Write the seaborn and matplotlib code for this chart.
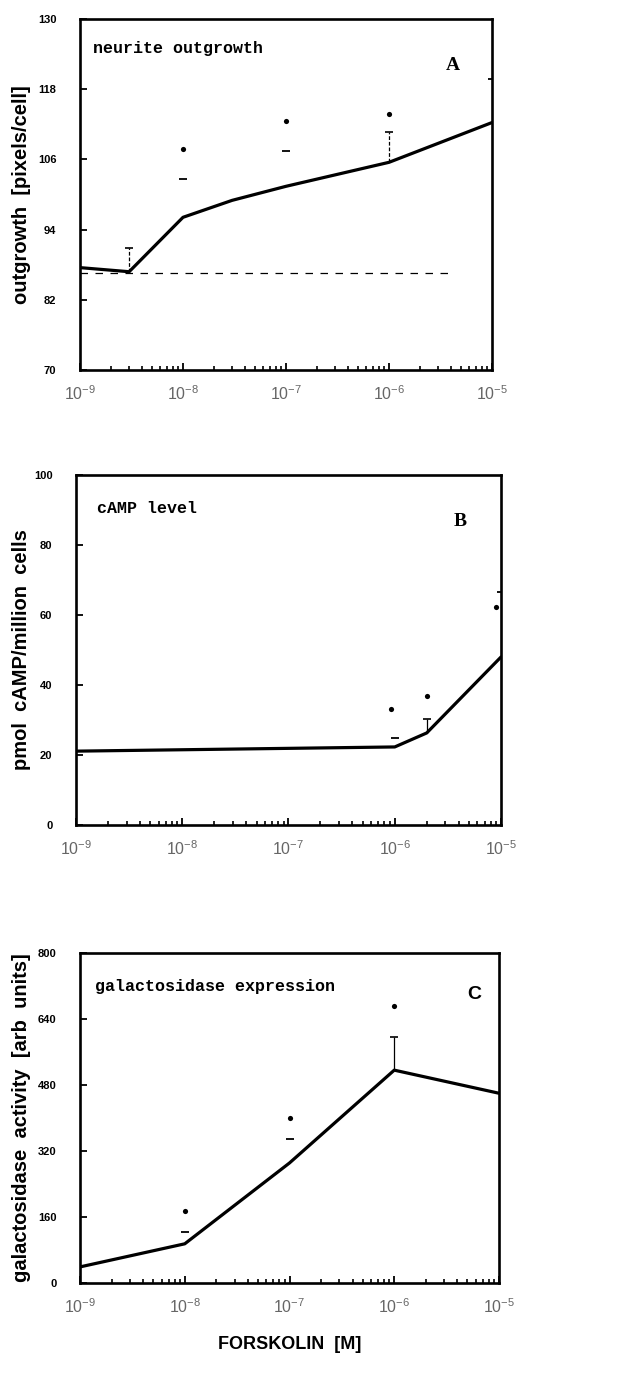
import matplotlib
matplotlib.use("Agg")
import numpy as np
import pandas as pd
import seaborn as sns
import matplotlib.pyplot as plt
from matplotlib.ticker import LogLocator, FixedLocator, NullFormatter, FixedFormatter

# ---------------- data ----------------
# Panel A: neurite outgrowth
a_conc = [1e-9, 3e-9, 1e-8, 3e-8, 1e-7, 1e-6, 1e-5]
a_mean = [87.5, 86.8, 96.1, 99.0, 101.4, 105.5, 112.3]
a_bar_conc = [3e-9, 1e-6]
a_bar_low = [86.8, 105.5]
a_bar_high = [90.9, 110.6]
a_cap_conc = [1e-8, 1e-7, 1e-5]
a_cap_val = [102.7, 107.5, 119.7]
a_sig_conc = [1e-8, 1e-7, 1e-6]
a_sig_val = [107.7, 112.5, 113.7]
a_ctrl_val = 86.6
a_ctrl_conc = [1e-9, 4.4e-6]
a_yticks = [70, 82, 94, 106, 118, 130]

# Panel B: cAMP level
b_conc = [1e-9, 1e-6, 2e-6, 1e-5]
b_mean = [21.1, 22.3, 26.3, 48.0]
b_bar_conc = [2e-6]
b_bar_low = [26.3]
b_bar_high = [30.3]
b_cap_conc = [1e-6, 1e-5]
b_cap_val = [24.9, 66.6]
b_sig_conc = [0.93e-6, 2e-6, 9e-6]
b_sig_val = [33.1, 37.0, 62.4]
b_yticks = [0, 20, 40, 60, 80, 100]

# Panel C: galactosidase expression
c_conc = [1e-9, 1e-8, 1e-7, 1e-6, 1e-5]
c_mean = [39, 95, 291, 516, 460]
c_bar_conc = [1e-6]
c_bar_low = [516]
c_bar_high = [596]
c_cap_conc = [1e-8, 1e-7]
c_cap_val = [124, 349]
c_sig_conc = [1e-8, 1e-7, 1e-6]
c_sig_val = [175, 400, 671]
c_yticks = [0, 160, 320, 480, 640, 800]

x_decades = [1e-9, 1e-8, 1e-7, 1e-6, 1e-5]
x_labels = [r"$10^{-9}$", r"$10^{-8}$", r"$10^{-7}$", r"$10^{-6}$", r"$10^{-5}$"]

# ---------------- style ----------------
sns.set_style("ticks")
plt.rcParams["font.family"] = ["Liberation Sans", "DejaVu Sans"]
plt.rcParams["mathtext.fontset"] = "custom"
plt.rcParams["mathtext.rm"] = "Liberation Sans"
plt.rcParams["mathtext.it"] = "Liberation Sans"
plt.rcParams["text.color"] = "black"
plt.rcParams["axes.labelcolor"] = "black"
plt.rcParams["xtick.color"] = "black"
plt.rcParams["ytick.color"] = "black"

fig = plt.figure(figsize=(6.3, 13.84), dpi=100)

panels = [
    dict(rect=[80/630, 1-370/1384, 412/630, 351/1384], conc=a_conc, mean=a_mean,
         bc=a_bar_conc, bl=a_bar_low, bh=a_bar_high, cc=a_cap_conc, cv=a_cap_val,
         sc=a_sig_conc, sv=a_sig_val, yticks=a_yticks,
         ylabel="outgrowth  [pixels/cell]", title="neurite outgrowth", letter="A",
         letter_font="Liberation Serif", tpos=(0.032, 0.915), lpos=(0.905, 0.868), labx=-0.118),
    dict(rect=[76/630, 1-825/1384, 425/630, 350/1384], conc=b_conc, mean=b_mean,
         bc=b_bar_conc, bl=b_bar_low, bh=b_bar_high, cc=b_cap_conc, cv=b_cap_val,
         sc=b_sig_conc, sv=b_sig_val, yticks=b_yticks,
         ylabel="pmol  cAMP/million  cells", title="cAMP level", letter="B",
         letter_font="Liberation Serif", tpos=(0.05, 0.905), lpos=(0.905, 0.866), labx=-0.106),
    dict(rect=[80/630, 1-1283/1384, 419/630, 330/1384], conc=c_conc, mean=c_mean,
         bc=c_bar_conc, bl=c_bar_low, bh=c_bar_high, cc=c_cap_conc, cv=c_cap_val,
         sc=c_sig_conc, sv=c_sig_val, yticks=c_yticks,
         ylabel="galactosidase  activity  [arb  units]", title="galactosidase expression",
         letter="C", letter_font="Liberation Sans", tpos=(0.036, 0.9), lpos=(0.94, 0.875), labx=-0.117),
]

for i, p in enumerate(panels):
    ax = fig.add_axes(p["rect"])
    df = pd.DataFrame({"conc": p["conc"], "val": p["mean"]})
    sns.lineplot(data=df, x="conc", y="val", ax=ax, color="black", lw=2.3,
                 estimator=None, sort=False)
    # error bars (visible stems)
    ax.vlines(p["bc"], p["bl"], p["bh"], color="black", lw=0.9,
              linestyles=(0, (3, 1.5)) if i == 0 else "solid")
    ax.scatter(p["bc"], p["bh"], marker="_", s=30, color="black", lw=1.2, zorder=3)
    # caps where stem not printed
    ax.scatter(p["cc"], p["cv"], marker="_", s=30, color="black", lw=1.3, zorder=3)
    # significance markers
    sdf = pd.DataFrame({"conc": p["sc"], "val": p["sv"]})
    sns.scatterplot(data=sdf, x="conc", y="val", ax=ax, color="black", s=14,
                    marker="o", edgecolor="black", linewidth=0, zorder=4)
    if i == 0:
        ax.plot(a_ctrl_conc, [a_ctrl_val, a_ctrl_val], color="black", lw=0.9,
                linestyle=(0, (6, 6)))

    ax.set_xscale("log")
    ax.set_xlim(1e-9, 1e-5)
    ax.set_ylim(p["yticks"][0], p["yticks"][-1])
    ax.set_yticks(p["yticks"])
    ax.set_yticklabels([str(t) for t in p["yticks"]], fontsize=8, fontweight="bold")
    ax.xaxis.set_major_locator(FixedLocator(x_decades))
    ax.xaxis.set_major_formatter(FixedFormatter(x_labels))
    ax.xaxis.set_minor_locator(LogLocator(base=10, subs=np.arange(2, 10), numticks=20))
    ax.xaxis.set_minor_formatter(NullFormatter())
    ax.tick_params(axis="x", which="major", direction="in", length=5, width=1.3,
                   pad=10, labelsize=11.5, labelcolor="#666666")
    ax.tick_params(axis="x", which="minor", direction="in", length=3, width=1.2)
    ax.tick_params(axis="y", which="major", direction="in", length=5, width=1.3, pad=17)
    ax.tick_params(top=False, right=False, which="both")
    for s in ax.spines.values():
        s.set_visible(True)
        s.set_linewidth(1.9)
        s.set_color("black")
    ax.set_xlabel("")
    ax.set_ylabel(p["ylabel"], fontsize=14.5, fontweight="bold")
    ax.yaxis.set_label_coords(p["labx"], 0.5)
    ax.text(p["tpos"][0], p["tpos"][1], p["title"], transform=ax.transAxes,
            family="Liberation Mono", fontweight="bold", fontsize=12, va="center", ha="left")
    ax.text(p["lpos"][0], p["lpos"][1], p["letter"], transform=ax.transAxes,
            family=p["letter_font"], fontweight="bold", fontsize=14, va="center", ha="center")
    if i == 2:
        ax.set_xlabel("FORSKOLIN  [M]", fontsize=13, fontweight="bold", labelpad=15)

fig.savefig("out.png", dpi=100, facecolor="white")
